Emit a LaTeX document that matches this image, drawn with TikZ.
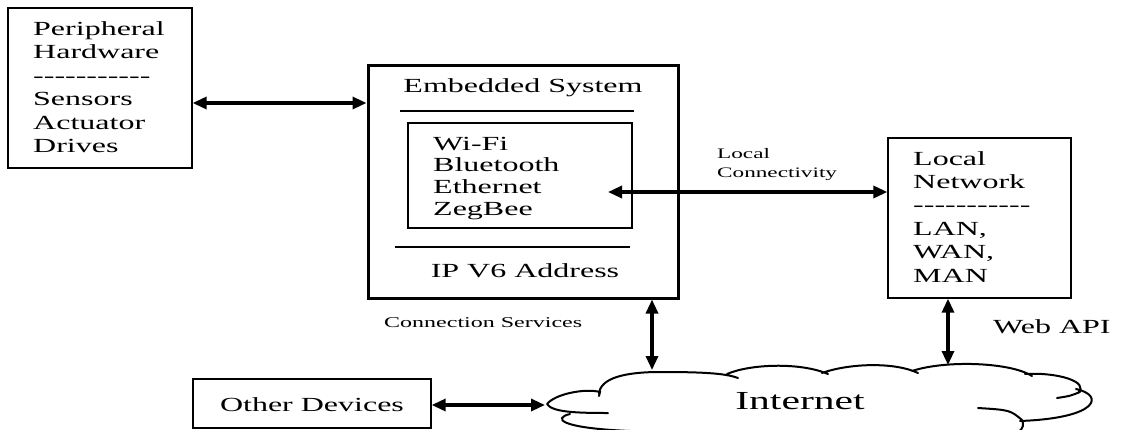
\documentclass[tikz,border=0pt]{standalone}
\usepackage{fontspec}
\setmainfont{Liberation Serif}[FakeStretch=1.6]
\usetikzlibrary{arrows.meta}
\newcommand\dashrow{\mbox{-}\mbox{-}\mbox{-}\mbox{-}\mbox{-}\mbox{-}\mbox{-}\mbox{-}\mbox{-}\mbox{-}\mbox{-}}
\begin{document}
\begin{tikzpicture}[x=1pt,y=-1pt,
  box/.style={draw, line width=1.3pt, inner sep=0pt},
  thickbox/.style={draw, line width=3pt, inner sep=0pt},
  sepline/.style={line width=2pt},
  txt/.style={anchor=base west, inner sep=0pt, font=\fontsize{20}{23.5}\selectfont},
  ctxt/.style={anchor=base, inner sep=0pt, font=\fontsize{20}{23.5}\selectfont},
  small/.style={anchor=base west, inner sep=0pt, font=\fontsize{14.5}{17}\selectfont},
  big/.style={anchor=base, inner sep=0pt, font=\fontsize{26}{30}\selectfont},
  arr/.style={line width=3.2pt, arrows={Triangle[length=14pt,width=12pt]-Triangle[length=14pt,width=12pt]}},
  cloudline/.style={line width=2pt, line cap=round}
]
\useasboundingbox (0,0) rectangle (1125,429);

% boxes
\node[box, minimum width=184pt, minimum height=160pt] (periph) at (100,88) {};
\node[thickbox, minimum width=310pt, minimum height=233pt] (emb) at (523,181.5) {};
\node[box, minimum width=224pt, minimum height=105pt] (inner) at (520,175.5) {};
\node[box, minimum width=183pt, minimum height=160pt] (lnet) at (979.5,218) {};
\node[box, minimum width=238pt, minimum height=49pt] (other) at (312,403.5) {};

% peripheral text
\foreach \t [count=\i] in {Peripheral, Hardware, \dashrow, Sensors, Actuator, Drives}
  \node[txt] (pt\i) at (33,{35+(\i-1)*23.5}) {\t};

% embedded system text
\node[ctxt] (embtitle) at (523,92) {Embedded System};
\draw[sepline] (400,111) -- (634,111);
\foreach \t [count=\i] in {Wi-Fi, Bluetooth, Ethernet, ZegBee}
  \node[txt] (it\i) at (433,{150+(\i-1)*21.7}) {\t};
\draw[sepline] (395,247) -- (630,247);
\node[ctxt] (ipv6) at (525,277) {IP V6 Address};

% local network text
\foreach \t [count=\i] in {Local, Network, \dashrow, {LAN,}, {WAN,}, MAN}
  \node[txt] (lt\i) at (913,{165+(\i-1)*23.4}) {\t};

% other devices text
\node[ctxt] (othertxt) at (312,411) {Other Devices};

% labels
\node[small] (lcl1) at (717,158) {Local};
\node[small] (lcl2) at (717,177) {Connectivity};
\node[small, font=\fontsize{15}{18}\selectfont] (csl) at (384,327) {Connection Services};
\node[txt] (webapi) at (993,333) {Web API};
\node[big] (inet) at (800,409) {Internet};

% cloud
\draw[cloudline]
  (547,404) .. controls (555,394) and (585,388) .. (600,392) -- (599,396)
  (599,394) .. controls (600,378) and (625,372) .. (660,372) .. controls (700,372) and (725,373) .. (738,378)
  (727,374) .. controls (750,364) and (800,362) .. (828,374)
  (822,373) .. controls (850,363) and (895,362) .. (918,373)
  (912,371) .. controls (945,360) and (1010,362) .. (1032,376)
  (1025,374) .. controls (1058,372) and (1090,382) .. (1078,393)
  (1080,392) .. controls (1070,396) .. (1057,398)
  (1076,389) .. controls (1104,395) and (1100,418) .. (1020,421)
  (1022,420) .. controls (1010,410) .. (978,408)
  (1022,420) .. controls (1030,438) and (990,446) .. (910,432)
  (547,404) .. controls (552,412) and (575,413) .. (608,413)
  (570,414) .. controls (553,418) and (558,428) .. (630,431);

% connectors
\path (periph.east) ++(0,15) coordinate (pa);
\draw[arr] (pa) -- (pa -| emb.west);
\coordinate (lc) at (608,192);
\draw[arr] (lc) -- (lc -| lnet.west);
\coordinate (ca) at (652,370);
\draw[arr] (ca |- emb.south) -- (ca);
\coordinate (cb) at (948,365);
\draw[arr] (cb |- lnet.south) -- (cb);
\coordinate (cc) at (545,405);
\draw[arr] (other.east |- cc) -- (cc);
\end{tikzpicture}
\end{document}
